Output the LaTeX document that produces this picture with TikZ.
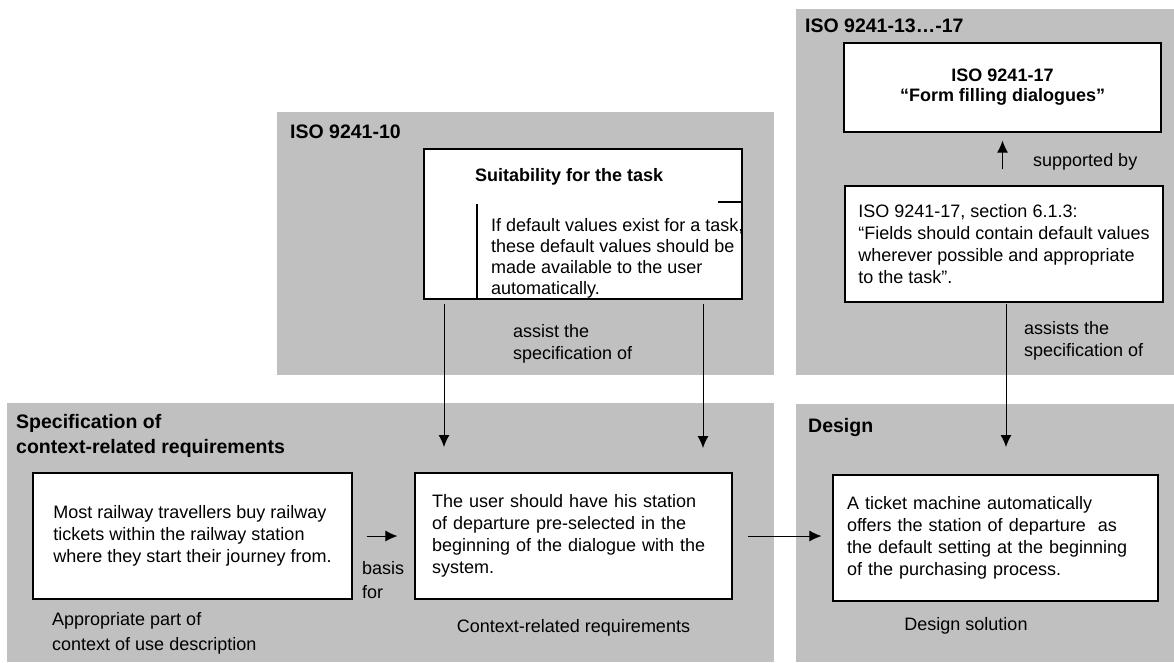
\documentclass[tikz,border=0pt]{standalone}
\usepackage{fontspec}
\setmainfont{Liberation Sans}
\usepackage{tikz}
\usetikzlibrary{arrows.meta}
\definecolor{panelgray}{RGB}{192,192,192}

\begin{document}
\begin{tikzpicture}[x=1pt,y=-1pt,>={Latex[length=12pt,width=11pt]},
        box/.style={draw,fill=white,line width=1.2pt,align=left,inner ysep=0pt,font=\fontsize{18}{22}\selectfont},
        head/.style={inner sep=0pt,align=left,font=\bfseries\fontsize{19.5}{25}\selectfont},
        note/.style={inner sep=0pt,align=left,font=\fontsize{18}{22}\selectfont},
        conn/.style={->,line width=1pt}]
        \useasboundingbox (0,0) rectangle (1174,662);
        \foreach \xa/\ya/\xb/\yb in {277/112/774/375,796/9/1174/375,7/403/774/662,796/404/1174/662}
        {
            \fill[panelgray] (\xa,\ya) rectangle (\xb,\yb);
        }
        \node[head,anchor=west] (isoten) at (290,132) {ISO 9241-10};
        \node[head,anchor=west] (isoform) at (805,26) {ISO 9241-13…-17};
        \node[head,anchor=west] (spechead) at (16,435.5) {Specification of\\context-related requirements};
        \node[head,anchor=west] (designhead) at (808,427) {Design};

        % upper boxes
        \node[box,minimum width=318pt,minimum height=150pt] (suit) at (583,224) {};
        \node[note,anchor=west,font=\bfseries\fontsize{18}{22}\selectfont] (suittitle) at (475,177) {Suitability for the task};
        \node[note,anchor=west,font=\fontsize{18}{21}\selectfont] (suitbody) at (491,258) {If default values exist for a task,\\these default values should be\\made available to the user\\automatically.};
        \draw[line width=1.2pt] (477,204)--(477,299) (718,202)--(742,202);
        \node[box,align=center,font=\bfseries\fontsize{18}{20}\selectfont,minimum width=317pt,minimum height=89pt] (form) at (1002.5,87.5) {ISO 9241-17\\“Form filling dialogues”};
        \node[box,minimum width=318pt,minimum height=116pt] (sect) at (1004,244) {ISO 9241-17, section 6.1.3:\\“Fields should contain default values\\wherever possible and appropriate\\to the task”.};

        % lower boxes
        \node[box,minimum width=319pt,minimum height=126pt] (usecontext) at (192.5,536) {Most railway travellers buy railway\\tickets within the railway station\\where they start their journey from.};
        \node[box,text width=283pt,inner xsep=17pt,minimum height=126pt] (req) at (573.5,536) {The user should have his station\\of departure pre-selected in the\\beginning of the dialogue with the\\system.};
        \node[box,text width=297pt,inner xsep=14pt,minimum height=126pt] (sol) at (995.5,538) {A ticket machine automatically\\offers the station of departure\ \ as\\the default setting at the beginning\\of the purchasing process.};

        \node[note,anchor=west,font=\fontsize{18}{24}\selectfont] (basis) at (362,580) {basis\\for};
        \node[note,anchor=west,font=\fontsize{18}{25}\selectfont] (usecontextlabel) at (52,633.5) {Appropriate part of\\context of use description};
        \node[note] (reqlabel) at (573.5,628) {Context-related requirements};
        \node[note] (sollabel) at (966,626) {Design solution};
        \node[note,anchor=west] (assistlabel) at (513,344) {assist the\\specification of};
        \node[note,anchor=west] (assistslabel) at (1024,341) {assists the\\specification of};
        \node[note,anchor=west] (supportlabel) at (1033,162) {supported by};

        \coordinate (tipa) at (444,447);
        \coordinate (tipb) at (703,448);
        \coordinate (tipc) at (1006,447);
        \draw[conn,shorten <=4pt] (suit.south -| tipa)--(tipa);
        \draw[conn,shorten <=4pt] (suit.south -| tipb)--(tipb);
        \draw[conn,shorten <=1pt] (sect.south -| tipc)--(tipc);
        \draw[conn,shorten <=16pt,shorten >=8pt] (sect.north -| form.south)--(form.south);
        \draw[conn,shorten <=14pt,shorten >=17pt] (usecontext.east)--(req.west);
        \draw[conn,shorten <=15pt,shorten >=11pt] (req.east)--(req.east -| sol.west);

    \end{tikzpicture}
\end{document}
